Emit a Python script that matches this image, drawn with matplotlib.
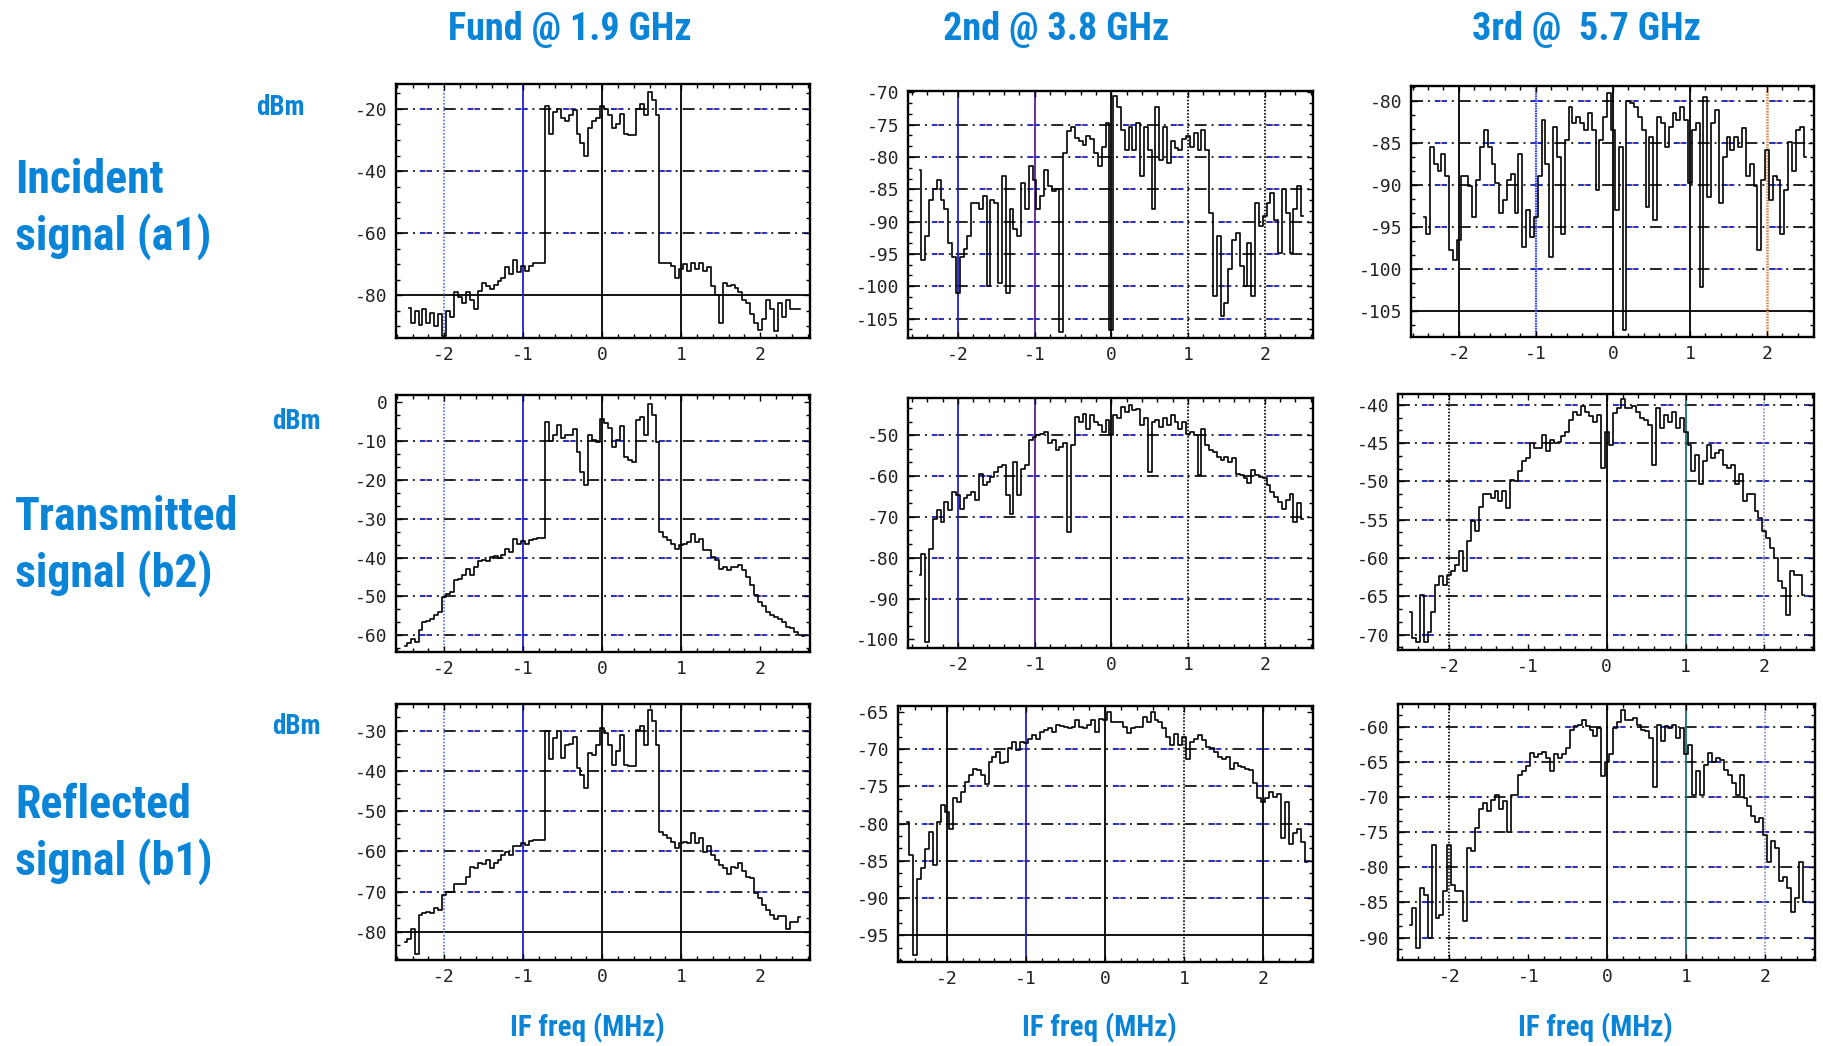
import matplotlib
matplotlib.use("Agg")
import matplotlib.pyplot as plt
import numpy as np
from matplotlib import font_manager as fm
from matplotlib.ticker import AutoMinorLocator

plt.rcParams["axes.unicode_minus"] = False
plt.rcParams["lines.scale_dashes"] = False

IF_STEP = 0.05  # MHz between trace samples

# ---- Incident signal (a1) ----
a1_fund_start = -2.45
a1_fund = [
    -84, -89, -85, -89.5, -84.5, -89, -85.5, -90, -86, -93,
    -85, -87, -79, -80.5, -82.5, -79, -81.5, -84.5, -78.5, -76,
    -77, -78, -76.5, -75.5, -74.5, -71, -73, -68.5, -72.5, -70.5,
    -72, -70.5, -69.5, -69.5, -69.5, -19, -28, -21, -20, -23,
    -24, -22, -20.5, -28, -31, -35, -26, -24, -23, -19,
    -20, -22, -26, -25, -21.5, -28, -28.5, -28.5, -20, -18.5,
    -22, -14.5, -17, -22, -69.5, -69.7, -69.7, -70.5, -74.5, -71.5,
    -70, -72, -69.5, -71.5, -69.5, -72, -71, -77, -80, -89,
    -76, -77, -76.5, -77.5, -79, -81.5, -82.5, -86, -89, -91,
    -87.5, -81.5, -84.5, -91.5, -82.5, -87, -81.5, -84.5, -84.5, -84.5,
]
a1_2nd_start = -2.50
a1_2nd = [
    -82, -96, -92.3, -86.6, -85, -83.5, -86.6, -88.1, -93.3, -95.4,
    -101, -95.4, -94.3, -92.3, -87.1, -87.1, -88.1, -86, -100, -86.6,
    -87.1, -99.5, -83, -101, -88.1, -91.2, -92.3, -84, -88.1, -81.4,
    -83.5, -88.1, -86, -82, -84.5, -85.3, -85, -107, -79.4, -76,
    -75.3, -77, -77.6, -78.1, -76.8, -77.3, -79.4, -81.4, -78.4, -74.7,
    -106.7, -70.6, -72.2, -75.8, -78.9, -75.3, -78.9, -74.7, -83, -75.3,
    -78.9, -88.1, -72.2, -80.4, -75.3, -80.9, -77.6, -78.6, -78.9, -77.3,
    -76.8, -78.4, -76.3, -78.9, -75.8, -78.9, -88.7, -101.5, -92.3, -104.6,
    -102.6, -97.4, -92.8, -91.8, -96.9, -100, -93.3, -101.5, -87.1, -90.7,
    -89.2, -87.1, -85.6, -89.7, -94.8, -85, -88.7, -94.8, -88.1, -84.5,
    -89.2,
]
a1_3rd_start = -2.45
a1_3rd = [
    -93.8, -95.8, -85.5, -87.5, -88.3, -86.3, -89, -97.8, -99, -96.6,
    -89, -89, -90.2, -93.8, -89.4, -85.5, -83.5, -85.5, -87.5, -89.8,
    -93.4, -91.8, -89.4, -88.7, -93.4, -86.3, -97.4, -93, -96.2, -93.8,
    -89, -82.3, -87.5, -98.6, -83.1, -86.7, -95.8, -84.7, -80.7, -82.7,
    -81.9, -82.7, -83.5, -81.5, -83.5, -90.6, -84.7, -81.9, -79.1, -83.5,
    -93, -85.5, -107.3, -80, -80.3, -80.7, -81.9, -83.5, -92.6, -84.3,
    -94.2, -81.9, -82.7, -85.5, -83.1, -81.5, -82.3, -80.7, -82.3, -89.8,
    -83.5, -82.7, -102.1, -79.5, -91.4, -82.7, -81.1, -92.2, -86.7, -84.3,
    -85.9, -84.3, -85.5, -83.3, -89, -87.5, -90.2, -97.8, -89.4, -85.9,
    -91.8, -89, -89.4, -95.8, -90.6, -84.9, -88.3, -83.5, -83.1, -86.7,
]

# ---- Transmitted signal (b2) ----
b2_fund_start = -2.50
b2_fund = [
    -62.7, -62.1, -61, -61.7, -58.7, -56.7, -56.4, -55.7, -54.8, -54,
    -50.1, -49.3, -48.8, -45.8, -45.4, -44.5, -42.8, -44.5, -42.4, -40.9,
    -40.7, -40.9, -39.8, -39.6, -40.2, -39.2, -37.7, -38.5, -35.1, -36.4,
    -35.8, -36.4, -35.5, -35.1, -34.9, -34.9, -5, -10, -8.5, -5.9,
    -9.3, -8.5, -8.3, -6.9, -12.7, -17.9, -21.3, -8.5, -9.7, -10.2,
    -4.2, -5.4, -6.7, -11.5, -9.7, -6, -14, -14.9, -15.3, -4.6,
    -3.7, -8.5, -0.3, -3.3, -10.2, -33.4, -34.7, -35.5, -36.4, -37.7,
    -36.8, -36.4, -35.9, -33.8, -35.9, -35.1, -38.1, -38.1, -39.8, -40.7,
    -42.8, -42.4, -43.2, -42.4, -42.4, -42, -43.2, -45, -47.1, -49.5,
    -51.4, -52.4, -54, -54.8, -55.3, -55.7, -56.7, -57.9, -58.1, -59.1,
    -60, -60.2,
]
b2_2nd_start = -2.50
b2_2nd = [
    -84.3, -79, -100.7, -77.8, -70.4, -68.4, -71.2, -66.3, -68.4, -63.9,
    -64.7, -68, -65.5, -64.7, -63.9, -65.9, -59.6, -62.3, -61.4, -60.2,
    -59, -57.8, -57.4, -64.7, -69.2, -56.5, -64.7, -58.2, -57.4, -51.2,
    -50.4, -50, -49.8, -49.2, -52, -51.2, -53.7, -52.9, -52, -73.7,
    -52.5, -45.5, -46.7, -44.7, -48.4, -45.1, -46.7, -47.5, -49.2, -46.3,
    -50, -45.1, -45.9, -43.1, -44.3, -42.6, -43.9, -43.5, -47.5, -45.9,
    -59, -46.7, -46.3, -48, -45.9, -47.5, -45.1, -46.7, -48.4, -46.7,
    -49.6, -49.2, -50, -59.8, -48.4, -52.5, -53.7, -54.1, -55.3, -56.1,
    -55.3, -56.5, -55.7, -59.4, -59.8, -60.6, -61.8, -58.6, -59.8, -60.2,
    -60.6, -62.3, -63.9, -65.1, -66.3, -68, -65.9, -64.3, -71.2, -66.7,
    -70.4,
]
b2_3rd_start = -2.50
b2_3rd = [
    -67, -70.4, -70.9, -64.8, -70.9, -69.6, -67, -63.5, -62.4, -63.5,
    -62.2, -61.7, -60.9, -59.1, -61.7, -57.8, -55.2, -56.5, -53.3, -51.7,
    -51.7, -52.2, -51.3, -52.6, -51.3, -53.5, -49.8, -50, -48.7, -47.4,
    -47, -45, -45.7, -45.7, -43.9, -46.1, -44.6, -45, -44.8, -44.1,
    -43.5, -42, -40.9, -41.3, -40.2, -40.9, -41.5, -42.2, -41.3, -48.3,
    -43.5, -45.2, -41.1, -40.4, -39.3, -40.4, -40.4, -40.2, -40.9, -41.7,
    -42, -42.6, -47.8, -40.4, -43, -41.3, -42.2, -40.9, -43, -41.7,
    -43.5, -45.2, -48.7, -46.5, -50.4, -47.4, -45.2, -47, -46.3, -45.9,
    -47.8, -48.3, -47.8, -50.4, -49.1, -52.6, -51.7, -51.7, -53.9, -54.8,
    -56.5, -57.4, -58.7, -60, -63, -63.9, -67.4, -61.7, -62.2, -62.2,
    -64.8,
]

# ---- Reflected signal (b1) ----
b1_fund_start = -2.50
b1_fund = [
    -82.5, -81.7, -79.2, -85.4, -75.8, -75.4, -75, -75.4, -74.2, -74.6,
    -70.9, -70.2, -70, -68.2, -68, -68, -66.3, -63.8, -64.2, -63,
    -63.2, -62.1, -64.1, -63, -62.1, -60.9, -60.2, -60.9, -58.6, -58.8,
    -58, -58.4, -57.4, -57.2, -57.2, -57.2, -30.2, -37, -31.8, -30.2,
    -36.8, -33.5, -33.3, -31.7, -39.3, -41, -44.3, -35.6, -36, -33.5,
    -29.3, -30.6, -33.5, -38.5, -35.1, -31, -38.5, -38.9, -38.9, -29.8,
    -28.9, -33.5, -24.8, -27.7, -33.5, -55.1, -55.9, -56.7, -57.6, -59.2,
    -58, -57.6, -58, -55.5, -58, -56.7, -60.1, -58.8, -60.9, -62.1,
    -63.4, -64.2, -65.7, -63.8, -64.2, -63, -65, -66.3, -66.7, -70.4,
    -71.7, -73.4, -74.6, -75.8, -76.7, -76, -76, -79.2, -77.5, -77.5,
    -76.3,
]
b1_2nd_start = -2.50
b1_2nd = [
    -79.8, -84.2, -97.7, -87.4, -86, -83.4, -81.1, -85.6, -79.8, -77.5,
    -78.4, -80.7, -76.6, -77.1, -75.7, -74.4, -73.5, -72.6, -72.8, -73.5,
    -74.7, -71.7, -71, -70.4, -71.9, -71.7, -69.9, -69, -70.1, -69,
    -69.2, -68.6, -68.1, -68.6, -67.7, -67.4, -67.2, -67.7, -66.8, -66.9,
    -67, -67.1, -67, -66.1, -67, -67.2, -66.8, -66.1, -67.7, -65.9,
    -66.1, -65, -66.3, -66.3, -66.3, -67, -67.8, -67.1, -67, -67,
    -65.7, -66.3, -65, -66.1, -66.3, -67.2, -68.3, -69.5, -67.9, -69.5,
    -68.3, -71.3, -69, -68.6, -68.1, -68.8, -69.7, -69.9, -70.4, -71,
    -71.3, -71, -72.7, -71.9, -72.2, -72.4, -72.6, -72.8, -74.6, -76.6,
    -77.1, -76.6, -75.7, -76.4, -76, -82, -77.1, -82.7, -81.3, -80.7,
    -82.5, -85.1,
]
b1_3rd_start = -2.50
b1_3rd = [
    -88.2, -85.8, -91.5, -83, -83.9, -90.1, -76.8, -87.2, -86.8, -83.4,
    -76.8, -82.5, -83.4, -83.4, -87.7, -77.3, -77.7, -74.4, -71.6, -70.8,
    -72, -70.4, -69.7, -71.6, -70.6, -74.9, -69.7, -69.7, -66.8, -66.3,
    -65.6, -63.7, -64.2, -63.9, -63.5, -64.4, -66.3, -63.9, -64.4, -63.9,
    -63, -60.4, -59.9, -59.7, -59, -59.9, -60.4, -61.3, -60.1, -67,
    -64.9, -63.9, -60.1, -59.2, -57.5, -59, -59, -58.7, -59.7, -60.4,
    -60.6, -61.6, -68.5, -59.7, -62, -59.9, -60.1, -59.7, -61.6, -60.1,
    -63.9, -62.5, -69.7, -66.3, -69.7, -65.4, -63.7, -64.9, -64.4, -64.7,
    -66.1, -66.8, -68, -69.7, -66.8, -70.1, -71.3, -72.7, -73.5, -73,
    -75.4, -79.2, -76.3, -77.3, -82, -81.3, -83, -86.3, -84.4, -79.2,
    -84.9,
]

col_titles = ["Fund @ 1.9 GHz", "2nd @ 3.8 GHz", "3rd @  5.7 GHz"]
row_titles = [("Incident", "signal (a1)"),
              ("Transmitted", "signal (b2)"),
              ("Reflected", "signal (b1)")]
x_ticks = [-2, -1, 0, 1, 2]

BLUE_TXT = "#0a84d6"
TICK_FONT = ["DejaVu Sans Mono"]


def find_condensed_bold():
    """Look for a narrow bold sans face; the slide uses a condensed font."""
    preferred = ["liberation sans narrow", "roboto condensed", "dejavu sans condensed",
                 "noto sans condensed", "open sans condensed", "noto sans"]
    found = []
    for f in fm.fontManager.ttflist:
        name = f.name.lower()
        path = f.fname.lower()
        narrow = ("condensed" in name or "narrow" in name or "condensed" in path
                  or "narrow" in path or "cond" in str(f.stretch))
        weight = f.weight if isinstance(f.weight, int) else {"bold": 700, "semibold": 600,
                                                             "demibold": 600}.get(str(f.weight), 400)
        if not narrow or weight < 600 or "mono" in name or "serif" in name.replace("sans", ""):
            continue
        if "italic" in path or f.style != "normal" or "semi" in path and "condensed" in path:
            continue
        rank = len(preferred)
        for i, key in enumerate(preferred):
            if name.startswith(key) or key.replace(" ", "") in path.replace("-", "").replace("_", ""):
                rank = i
                break
        found.append((rank, abs(weight - 700), f.fname))
    if found:
        found.sort()
        return fm.FontProperties(fname=found[0][2]), True
    return fm.FontProperties(family=["Roboto", "Liberation Sans", "DejaVu Sans"], weight="bold"), False


TITLE_PROP, IS_NARROW = find_condensed_bold()
# a normal-width face runs too wide, so shrink it a little if no narrow face exists
SIZE_SCALE = 1.0 if IS_NARROW else 0.8

# vertical marker line styles
LBLUE_DOT = dict(color="#5b7cf7", ls=(0, (1.2, 1.2)), lw=1.3)
BLUE = dict(color="#2020c8", ls="-", lw=1.3)
BLUE_DOT = dict(color="#3347f0", ls=(0, (1.2, 0.6)), lw=1.6)
PURPLE = dict(color="#5a2090", ls="-", lw=1.3)
BLACK = dict(color="black", ls="-", lw=1.3)
BLACK_DOT = dict(color="black", ls=(0, (1.2, 1.2)), lw=1.2)
ORANGE_DOT = dict(color="#d8864a", ls=(0, (1.2, 0.8)), lw=1.8)
TEAL = dict(color="#1f6e72", ls="-", lw=1.3)
GRAY_DOT = dict(color="#8a8ab8", ls=(0, (1.2, 1.2)), lw=1.2)

FUND_V = [(-2, LBLUE_DOT), (-1, BLUE), (0, BLACK), (1, BLACK)]
SECOND_V = [(-2, BLUE), (-1, PURPLE), (0, BLACK), (1, BLACK_DOT), (2, BLACK_DOT)]
THIRD_V = [(-2, BLACK_DOT), (0, BLACK), (1, TEAL), (2, GRAY_DOT)]

# box in pixels (left, top, right, bottom), x-limits, y-limits, y ticks,
# dash-dot levels, solid level, vertical markers, minor y divisions
panels = [
    dict(y=a1_fund, x0=a1_fund_start, box=(396, 84, 810, 338), xlim=(-2.61, 2.63),
         ylim=(-93.7, -12), yticks=[-20, -40, -60, -80], dash=[-20, -40, -60],
         solid=-80, vlines=FUND_V, minor=4),
    dict(y=a1_2nd, x0=a1_2nd_start, box=(908, 91, 1313, 338), xlim=(-2.65, 2.63),
         ylim=(-108, -69.8), yticks=[-70, -75, -80, -85, -90, -95, -100, -105],
         dash=[-75, -80, -85, -90, -95, -100, -105], solid=None, vlines=SECOND_V, minor=3),
    dict(y=a1_3rd, x0=a1_3rd_start, box=(1411, 86, 1814, 337), xlim=(-2.62, 2.61),
         ylim=(-108.1, -78.25), yticks=[-80, -85, -90, -95, -100, -105],
         dash=[-80, -85, -90, -95, -100], solid=-105,
         vlines=[(-2, BLACK), (-1, BLUE_DOT), (0, BLACK), (1, BLACK), (2, ORANGE_DOT)], minor=3),
    dict(y=b2_fund, x0=b2_fund_start, box=(396, 395, 810, 652), xlim=(-2.61, 2.63),
         ylim=(-64.3, 1.9), yticks=[0, -10, -20, -30, -40, -50, -60],
         dash=[-10, -20, -30, -40, -50, -60], solid=None, vlines=FUND_V, minor=3),
    dict(y=b2_2nd, x0=b2_2nd_start, box=(908, 398, 1313, 648), xlim=(-2.65, 2.63),
         ylim=(-102.1, -40.9), yticks=[-50, -60, -70, -80, -90, -100],
         dash=[-50, -60, -70, -80, -90], solid=None, vlines=SECOND_V, minor=3),
    dict(y=b2_3rd, x0=b2_3rd_start, box=(1398, 394, 1814, 650), xlim=(-2.65, 2.63),
         ylim=(-72, -38.6), yticks=[-40, -45, -50, -55, -60, -65, -70],
         dash=[-40, -45, -50, -55, -60, -65, -70], solid=None, vlines=THIRD_V, minor=3),
    dict(y=b1_fund, x0=b1_fund_start, box=(396, 704, 810, 960), xlim=(-2.61, 2.63),
         ylim=(-87, -23.4), yticks=[-30, -40, -50, -60, -70, -80],
         dash=[-30, -40, -50, -60, -70], solid=-80, vlines=FUND_V, minor=3),
    dict(y=b1_2nd, x0=b1_2nd_start, box=(898, 706, 1313, 962), xlim=(-2.62, 2.63),
         ylim=(-98.6, -64.2), yticks=[-65, -70, -75, -80, -85, -90, -95],
         dash=[-70, -75, -80, -85, -90], solid=-95,
         vlines=[(-2, BLACK), (-1, BLUE), (0, BLACK), (1, BLACK_DOT), (2, BLACK)], minor=3),
    dict(y=b1_3rd, x0=b1_3rd_start, box=(1398, 704, 1815, 960), xlim=(-2.65, 2.63),
         ylim=(-93.2, -56.7), yticks=[-60, -65, -70, -75, -80, -85, -90],
         dash=[-60, -65, -70, -75, -80, -85, -90], solid=None, vlines=THIRD_V, minor=3),
]

FIG_W, FIG_H = 1824, 1046
fig = plt.figure(figsize=(FIG_W / 100, FIG_H / 100), dpi=100)
fig.patch.set_facecolor("white")


def px_rect(box):
    left, top, right, bottom = box
    return [left / FIG_W, 1 - bottom / FIG_H, (right - left) / FIG_W, (bottom - top) / FIG_H]


def dash_dot(ax, level):
    # black dash-dot with every other dash in blue, like the analyser screen grab
    ax.axhline(level, color="black", lw=1.2, ls=(0, (8.6, 3.6, 1.4, 3.6)), zorder=1)
    ax.axhline(level, color="#2636e8", lw=1.2, ls=(17.2, (8.6, 25.9)), zorder=1.1)
    ax.axhline(level, color="#f0a070", lw=1.2, ls=(13.6, (1.4, 33.1)), zorder=1.2)


for p in panels:
    ax = fig.add_axes(px_rect(p["box"]))
    y = np.asarray(p["y"], dtype=float)
    x = p["x0"] + IF_STEP * np.arange(len(y))

    for level in p["dash"]:
        dash_dot(ax, level)
    if p["solid"] is not None:
        ax.axhline(p["solid"], color="black", lw=1.3, zorder=1.3)
    for xv, style in p["vlines"]:
        ax.axvline(xv, zorder=1.5, **style)

    ax.plot(x, y, color="black", lw=1.2, drawstyle="steps-mid", zorder=3)

    ax.set_xlim(*p["xlim"])
    ax.set_ylim(*p["ylim"])
    ax.set_xticks(x_ticks)
    ax.set_yticks(p["yticks"])
    ax.xaxis.set_minor_locator(AutoMinorLocator(5))
    ax.yaxis.set_minor_locator(AutoMinorLocator(p["minor"]))
    ax.tick_params(which="both", direction="in", top=True, right=True,
                   colors="black", labelcolor="#222222", pad=6)
    ax.tick_params(which="major", length=4, width=1.0, labelsize=13)
    ax.tick_params(which="minor", length=3, width=1.0)
    for lab in ax.get_xticklabels() + ax.get_yticklabels():
        lab.set_fontfamily(TICK_FONT)
    for spine in ax.spines.values():
        spine.set_linewidth(1.7)


def fig_text(x, y, s, size, **kw):
    fig.text(x / FIG_W, 1 - y / FIG_H, s, color=BLUE_TXT, fontproperties=TITLE_PROP,
             fontsize=size * SIZE_SCALE, fontweight="bold", **kw)


for cx, title in zip([570, 1056, 1586], col_titles):
    fig_text(cx, 40, title, 27.5, ha="center", va="baseline")

for (line1, line2), base in zip(row_titles, [193, 530, 818]):
    fig_text(15, base, line1, 33, ha="left", va="baseline")
    fig_text(15, base + 57, line2, 33, ha="left", va="baseline")

for ux, uy in [(256, 115), (272, 429), (272, 734)]:
    fig_text(ux, uy, "dBm", 19.5, ha="left", va="baseline")

for cx in [587, 1099, 1595]:
    fig_text(cx, 1036, "IF freq (MHz)", 21, ha="center", va="baseline")

fig.savefig("out.png", dpi=100, facecolor="white")
